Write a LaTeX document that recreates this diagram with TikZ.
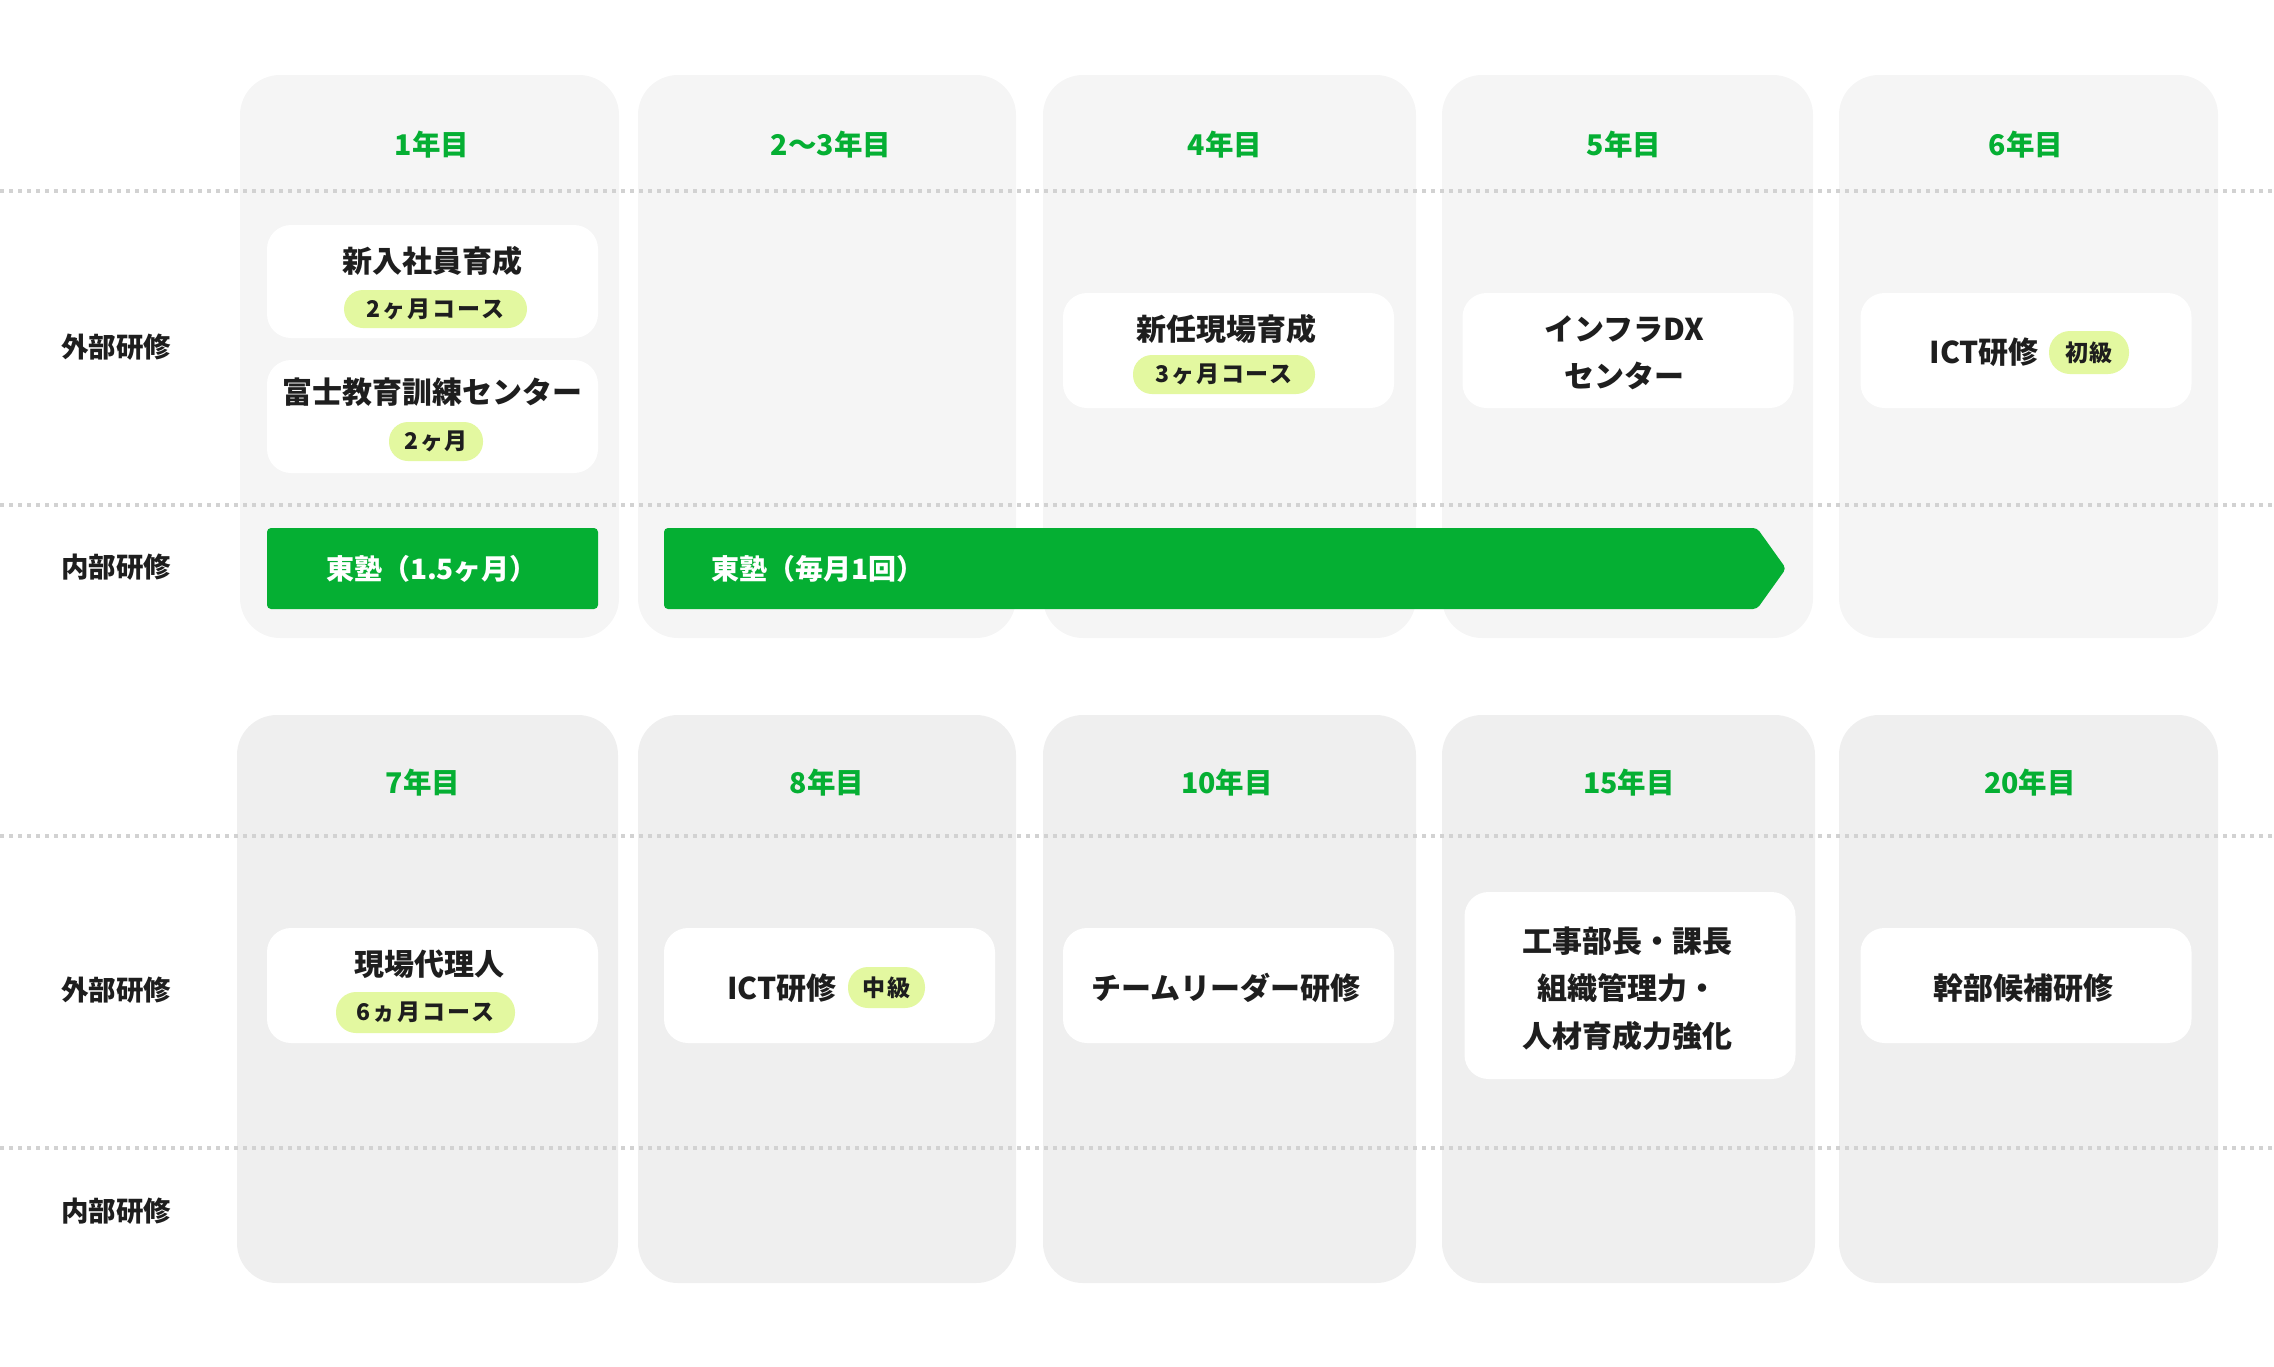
\documentclass[tikz,border=0pt]{standalone}
\usepackage{fontspec}
\setmainfont{Noto Sans CJK JP}
\definecolor{grn}{HTML}{05AF33}
\definecolor{colA}{HTML}{F5F5F5}
\definecolor{colB}{HTML}{EFEFEF}
\definecolor{pillc}{HTML}{E3F8A0}
\definecolor{ink}{HTML}{1E1E1E}
\definecolor{dotc}{HTML}{D2D2D2}
\tikzset{
  colbox/.style={fill=#1, draw=none, rounded corners=40pt, inner sep=0pt, minimum width=376pt},
  wbox/.style={fill=white, draw=none, rounded corners=24pt, inner sep=0pt, minimum width=331pt},
  pill/.style={fill=pillc, draw=none, rounded corners=19pt, inner sep=0pt, text=ink,
    font=\fontsize{23}{27}\selectfont\bfseries\addfontfeatures{LetterSpace=8}},
  yr/.style={text=grn, font=\fontsize{28.5}{32}\selectfont\bfseries, inner sep=0pt},
  rowlab/.style={text=ink, font=\fontsize{27.5}{31}\selectfont\bfseries, inner sep=0pt},
  btxt/.style={text=ink, font=\fontsize{30}{34}\selectfont\bfseries, inner sep=0pt},
  bartxt/.style={text=white, font=\fontsize{28}{32}\selectfont\bfseries, inner sep=0pt},
  dotline/.style={draw=dotc, line width=3.5pt, dash pattern=on 4pt off 5pt},
  greenbar/.style={fill=grn, draw=none, rounded corners=4pt}
}
\begin{document}
\begin{tikzpicture}[x=1pt, y=-1pt]
\useasboundingbox (0,0) rectangle (2274,1366);
% columns row 1
\node[colbox=colA, minimum width=379pt, minimum height=563pt] (t1) at (429.5,356.5) {};
\node[colbox=colA, minimum width=378pt, minimum height=563pt] (t2) at (827,356.5) {};
\node[colbox=colA, minimum width=373pt, minimum height=563pt] (t3) at (1229.5,356.5) {};
\node[colbox=colA, minimum width=371pt, minimum height=563pt] (t4) at (1627.5,356.5) {};
\node[colbox=colA, minimum width=379pt, minimum height=563pt] (t5) at (2028.5,356.5) {};
% columns row 2
\node[colbox=colB, minimum width=381pt, minimum height=568pt] (b1) at (427.5,999) {};
\node[colbox=colB, minimum width=378pt, minimum height=568pt] (b2) at (827,999) {};
\node[colbox=colB, minimum width=373pt, minimum height=568pt] (b3) at (1229.5,999) {};
\node[colbox=colB, minimum width=373pt, minimum height=568pt] (b4) at (1628.5,999) {};
\node[colbox=colB, minimum width=379pt, minimum height=568pt] (b5) at (2028.5,999) {};
% dotted dividers
\coordinate (d1l) at (0,191); \coordinate (d1r) at (2274,191);
\coordinate (d2l) at (0,505); \coordinate (d2r) at (2274,505);
\coordinate (d3l) at (0,836); \coordinate (d3r) at (2274,836);
\coordinate (d4l) at (0,1148); \coordinate (d4r) at (2274,1148);
\draw[dotline] (d1l) -- (d1r);
\draw[dotline] (d2l) -- (d2r);
\draw[dotline] (d3l) -- (d3r);
\draw[dotline] (d4l) -- (d4r);
% row labels
\node[rowlab] (r1) at (116,347) {外部研修};
\node[rowlab] (r2) at (116,567) {内部研修};
\node[rowlab] (r3) at (116,990) {外部研修};
\node[rowlab] (r4) at (116,1211) {内部研修};
% year labels
\node[yr] (y1) at (432,145) {1年目};
\node[yr] (y2) at (831,145) {2〜3年目};
\node[yr] (y3) at (1225,145) {4年目};
\node[yr] (y4) at (1624,145) {5年目};
\node[yr] (y5) at (2026,145) {6年目};
\node[yr] (y6) at (423,783) {7年目};
\node[yr] (y7) at (827,783) {8年目};
\node[yr] (y8) at (1227,783) {10年目};
\node[yr] (y9) at (1629,783) {15年目};
\node[yr] (y10) at (2030,783) {20年目};
% top row white boxes
\node[wbox, minimum height=113pt] (w1) at (432.5,281.5) {};
\node[btxt] (w1t) at (432,261) {新入社員育成};
\node[pill, minimum width=183pt, minimum height=38pt] (w1p) at (435.5,309) {2ヶ月コース};
\node[wbox, minimum height=113pt] (w2) at (432.5,416.5) {};
\node[btxt] (w2t) at (432,392) {富士教育訓練センター};
\node[pill, minimum width=94pt, minimum height=39pt] (w2p) at (436,441.5) {2ヶ月};
\node[wbox, minimum height=115pt] (w3) at (1228.5,350.5) {};
\node[btxt] (w3t) at (1226,329) {新任現場育成};
\node[pill, minimum width=182pt, minimum height=39pt] (w3p) at (1224,374.5) {3ヶ月コース};
\node[wbox, minimum height=115pt] (w4) at (1628,350.5) {};
\node[btxt] (w4a) at (1624,329) {インフラDX};
\node[btxt] (w4b) at (1624,376) {センター};
\node[wbox, minimum height=115pt] (w5) at (2026,350.5) {};
\node[pill, minimum width=80pt, minimum height=43pt, rounded corners=21pt] (w5p) at (2089,352.5) {初級};
\node[btxt, anchor=east] (w5t) at (2039,352) {ICT研修};
% green bars
\node[greenbar, minimum width=331pt, minimum height=81pt, inner sep=0pt] (g1) at (432.5,568.5) {};
\node[bartxt] (g1t) at (432,569) {東塾（1.5ヶ月）};
\path[greenbar] (664,528) -- (1757,528) -- (1786,568.5) -- (1757,609) -- (664,609) -- cycle;
\node[bartxt, anchor=west] (g2t) at (711,569) {東塾（毎月1回）};
% bottom row white boxes
\node[wbox, minimum height=115pt] (v1) at (432.5,985.5) {};
\node[btxt] (v1t) at (429,964) {現場代理人};
\node[pill, minimum width=179pt, minimum height=41pt, rounded corners=20pt] (v1p) at (425.5,1012.5) {6ヵ月コース};
\node[wbox, minimum height=115pt] (v2) at (829.5,985.5) {};
\node[pill, minimum width=77pt, minimum height=41pt, rounded corners=20pt] (v2p) at (886.5,987.5) {中級};
\node[btxt, anchor=east] (v2t) at (837,988) {ICT研修};
\node[wbox, minimum height=115pt] (v3) at (1228.5,985.5) {};
\node[btxt] (v3t) at (1226,988) {チームリーダー研修};
\node[wbox, minimum height=187pt] (v4) at (1630,985.5) {};
\node[btxt] (v4a) at (1627,941) {工事部長・課長};
\node[btxt] (v4b) at (1627,988) {組織管理力・};
\node[btxt] (v4c) at (1627,1036) {人材育成力強化};
\node[wbox, minimum height=115pt] (v5) at (2026,985.5) {};
\node[btxt] (v5t) at (2023,988) {幹部候補研修};
\end{tikzpicture}
\end{document}
